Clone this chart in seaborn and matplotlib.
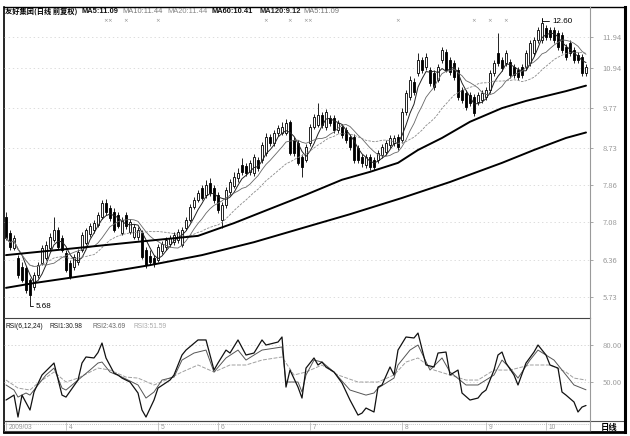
import numpy as np
import pandas as pd
import seaborn as sns
import matplotlib
matplotlib.use("Agg")
import matplotlib.pyplot as plt
from matplotlib.ticker import FixedLocator, NullLocator, FixedFormatter
import matplotlib.transforms as mtrans

# daily bars
opens = [7.18, 6.87, 6.58, 6.40, 6.24, 6.22, 6.02, 5.90, 6.10, 6.31,
         6.40, 6.58, 6.73, 6.92, 6.77, 6.49, 6.31, 6.24, 6.33, 6.54,
         6.67, 6.85, 6.92, 7.02, 7.18, 7.48, 7.37, 7.29, 7.22, 6.87,
         7.22, 6.88, 6.79, 6.79, 6.87, 6.54, 6.44, 6.40, 6.36, 6.53,
         6.60, 6.66, 6.69, 6.73, 6.64, 6.96, 7.12, 7.39, 7.54, 7.80,
         7.65, 7.91, 7.80, 7.65, 7.12, 7.43, 7.71, 7.84, 8.02, 8.32,
         8.30, 8.16, 8.13, 8.44, 8.44, 8.61, 9.01, 8.85, 9.11, 9.11,
         9.11, 9.40, 8.93, 8.85, 8.51, 8.44, 8.85, 9.27, 9.32, 9.58,
         9.27, 9.50, 9.50, 9.19, 9.27, 9.19, 9.01, 9.01, 8.73, 8.51,
         8.32, 8.51, 8.44, 8.44, 8.56, 8.63, 8.80, 8.85, 9.01, 8.93,
         9.66, 10.08, 10.52, 10.79, 11.19, 10.97, 10.88, 10.79, 10.58, 11.19,
         11.45, 11.19, 11.09, 10.88, 10.28, 10.19, 10.14, 10.08, 9.94, 9.99,
         10.08, 10.28, 10.79, 11.42, 11.19, 11.09, 11.12, 10.97, 10.88, 10.97,
         10.97, 11.09, 11.42, 11.84, 11.84, 12.25, 12.18, 12.18, 12.08, 12.01,
         11.61, 11.74, 11.51, 11.35, 11.29, 10.79]
highs = [7.29, 6.92, 6.83, 6.45, 6.33, 6.26, 6.05, 6.15, 6.33, 6.64,
         6.71, 6.87, 7.18, 6.98, 6.83, 6.54, 6.36, 6.47, 6.56, 6.88,
         6.96, 7.06, 7.12, 7.29, 7.54, 7.56, 7.43, 7.37, 7.29, 7.18,
         7.29, 7.14, 7.04, 6.98, 6.92, 6.60, 6.54, 6.45, 6.66, 6.71,
         6.79, 6.83, 6.88, 6.94, 6.98, 7.18, 7.45, 7.60, 7.76, 7.87,
         7.98, 8.02, 7.87, 7.71, 7.50, 7.82, 8.00, 8.16, 8.25, 8.49,
         8.37, 8.44, 8.59, 8.51, 8.88, 9.11, 9.08, 9.19, 9.32, 9.40,
         9.47, 9.45, 9.01, 8.93, 8.59, 8.83, 9.35, 9.61, 9.91, 9.66,
         9.74, 9.58, 9.58, 9.45, 9.35, 9.27, 9.08, 9.08, 8.80, 8.59,
         8.59, 8.59, 8.51, 8.68, 8.83, 8.93, 9.06, 9.06, 9.08, 9.77,
         10.28, 10.70, 10.64, 11.42, 11.29, 11.42, 10.97, 10.88, 11.06, 11.61,
         11.55, 11.29, 11.19, 10.97, 10.37, 10.28, 10.22, 10.17, 10.22, 10.28,
         10.37, 10.88, 11.19, 12.08, 11.29, 11.51, 11.22, 11.06, 10.97, 11.06,
         11.51, 11.84, 11.94, 12.28, 12.60, 12.35, 12.28, 12.28, 12.18, 12.11,
         11.71, 11.84, 11.61, 11.45, 11.38, 11.06]
lows = [6.73, 6.54, 6.54, 6.05, 5.98, 5.80, 5.68, 5.85, 6.05, 6.27,
        6.36, 6.54, 6.69, 6.56, 6.51, 6.15, 6.03, 6.19, 6.27, 6.51,
        6.64, 6.79, 6.87, 6.98, 7.14, 7.22, 7.10, 6.88, 6.96, 6.83,
        6.94, 6.85, 6.75, 6.73, 6.38, 6.22, 6.27, 6.24, 6.33, 6.47,
        6.54, 6.60, 6.64, 6.67, 6.60, 6.92, 7.08, 7.35, 7.50, 7.54,
        7.58, 7.63, 7.48, 7.27, 6.96, 7.37, 7.65, 7.80, 7.93, 8.09,
        8.07, 8.09, 8.07, 8.18, 8.37, 8.54, 8.78, 8.78, 9.03, 9.06,
        9.06, 8.56, 8.54, 8.32, 8.04, 8.39, 8.78, 9.21, 9.27, 9.24,
        9.19, 9.29, 9.11, 9.11, 8.98, 8.85, 8.68, 8.37, 8.37, 8.27,
        8.25, 8.20, 8.20, 8.37, 8.49, 8.56, 8.73, 8.78, 8.68, 8.85,
        9.58, 9.99, 10.14, 10.70, 10.79, 10.88, 10.40, 10.28, 10.52, 11.09,
        10.82, 10.73, 10.58, 9.99, 9.91, 9.72, 9.83, 9.56, 9.85, 9.91,
        9.99, 10.19, 10.70, 11.00, 10.85, 11.00, 10.64, 10.64, 10.58, 10.64,
        10.88, 11.00, 11.32, 11.74, 11.74, 11.84, 11.84, 11.74, 11.51, 11.42,
        11.19, 11.32, 11.09, 11.09, 10.70, 10.70]
closes = [6.77, 6.60, 6.77, 6.10, 6.02, 5.85, 5.77, 6.10, 6.27, 6.58,
          6.64, 6.79, 6.92, 6.60, 6.54, 6.19, 6.07, 6.42, 6.51, 6.83,
          6.92, 7.00, 7.06, 7.22, 7.48, 7.29, 7.16, 6.92, 7.00, 7.12,
          7.00, 7.08, 6.98, 6.92, 6.42, 6.27, 6.33, 6.31, 6.60, 6.66,
          6.73, 6.77, 6.83, 6.88, 6.92, 7.12, 7.39, 7.54, 7.69, 7.58,
          7.87, 7.69, 7.54, 7.33, 7.43, 7.76, 7.93, 8.04, 8.13, 8.16,
          8.13, 8.37, 8.51, 8.25, 8.80, 9.01, 8.85, 9.11, 9.24, 9.27,
          9.37, 8.61, 8.61, 8.37, 8.27, 8.75, 9.27, 9.53, 9.58, 9.32,
          9.66, 9.37, 9.19, 9.37, 9.06, 8.93, 8.75, 8.44, 8.44, 8.37,
          8.51, 8.27, 8.27, 8.61, 8.75, 8.85, 8.98, 8.98, 8.75, 9.66,
          10.19, 10.58, 10.22, 11.19, 10.88, 11.29, 10.49, 10.37, 10.97, 11.51,
          10.88, 10.82, 10.67, 10.08, 9.99, 9.80, 9.91, 9.64, 10.14, 10.19,
          10.28, 10.79, 11.09, 11.09, 10.94, 11.42, 10.73, 10.73, 10.67, 10.73,
          11.42, 11.74, 11.84, 12.18, 12.42, 11.94, 11.94, 11.84, 11.61, 11.51,
          11.29, 11.42, 11.19, 11.19, 10.79, 10.97]

# long averages (history starts before the window)
ma60_day = [0, 15, 32, 40, 48, 57, 66, 75, 84, 91, 98, 103, 109, 116, 124, 130, 135, 140, 145]
ma60_val = [6.45, 6.56, 6.69, 6.75, 6.81, 7.06, 7.35, 7.65, 7.98, 8.16, 8.37, 8.68, 8.98,
            9.40, 9.77, 9.97, 10.11, 10.25, 10.41]
ma120_day = [0, 7, 24, 36, 49, 62, 74, 86, 99, 111, 124, 132, 140, 145]
ma120_val = [5.88, 5.96, 6.13, 6.27, 6.45, 6.69, 6.96, 7.24, 7.58, 7.93, 8.37, 8.68, 8.98, 9.12]

rsi6_day = [0, 2, 3, 4, 6, 7, 9, 12, 14, 15, 18, 19, 20, 22, 23, 24, 25, 27, 28, 29,
            31, 33, 34, 35, 37, 38, 41, 42, 44, 45, 48, 49, 50, 52, 53, 55, 56, 58, 60, 62,
            64, 65, 68, 69, 70, 71, 73, 74, 75, 77, 78, 79, 80, 82, 84, 86, 88, 89, 90, 92,
            93, 94, 96, 97, 98, 100, 102, 103, 105, 107, 108, 110, 111, 113, 114, 116, 118, 119, 120, 122,
            123, 124, 125, 127, 128, 130, 132, 133, 135, 136, 138, 139, 140, 142, 143, 144, 145]
rsi6_val = [35.4, 39.4, 21.6, 39.4, 27.3, 41.9, 55.7, 65.4, 39.4, 37.8, 51.6, 65.4, 70.3, 69.5, 73.9, 81.6, 69.5, 57.3, 55.7, 53.2,
            50.0, 41.1, 27.3, 21.6, 35.4, 45.1, 51.6, 55.7, 71.9, 75.9, 84.1, 84.1, 84.1, 59.7, 65.4, 75.9, 73.5, 84.1, 71.9, 73.5,
            84.1, 80.0, 82.4, 86.5, 45.9, 59.7, 45.9, 37.0, 61.3, 69.5, 63.8, 66.2, 62.2, 58.1, 49.2, 35.4, 23.2, 24.8, 28.9, 25.7,
            45.9, 47.6, 62.2, 55.7, 75.9, 86.5, 85.7, 89.7, 63.8, 62.2, 73.5, 74.3, 55.7, 59.7, 41.1, 35.4, 37.0, 41.1, 43.5, 59.7,
            71.9, 74.3, 65.4, 55.7, 47.6, 65.4, 74.3, 80.0, 71.9, 63.8, 61.3, 41.9, 39.4, 33.8, 25.7, 29.7, 30.98]
rsi12_day = [0, 2, 3, 5, 6, 8, 10, 12, 14, 15, 18, 21, 23, 24, 26, 29, 33, 35, 37, 39,
             42, 44, 47, 50, 52, 55, 58, 60, 64, 69, 70, 73, 74, 75, 77, 79, 82, 86, 90, 92,
             93, 97, 98, 101, 103, 106, 109, 111, 115, 118, 122, 124, 126, 128, 131, 133, 137, 140, 142, 145]
rsi12_val = [47.6, 43.5, 37.8, 41.1, 39.4, 47.6, 55.7, 61.3, 45.1, 43.5, 51.6, 59.7, 65.4, 66.2, 58.1, 54.0, 47.6, 37.0, 41.9, 51.6,
             54.0, 67.8, 73.5, 75.9, 58.1, 69.5, 75.9, 67.8, 75.9, 78.4, 50.0, 50.0, 41.9, 55.7, 67.8, 66.2, 58.1, 43.5, 39.4, 41.1,
             45.1, 53.2, 63.8, 75.9, 80.0, 59.7, 69.5, 58.1, 47.6, 47.6, 55.7, 67.8, 61.3, 53.2, 67.8, 75.9, 67.8, 55.7, 47.6, 43.69]
rsi24_day = [0, 3, 6, 8, 12, 15, 18, 23, 26, 30, 33, 37, 40, 44, 48, 52, 56, 60, 64, 69,
             72, 75, 79, 83, 88, 93, 97, 100, 103, 107, 111, 115, 118, 122, 126, 131, 136, 140, 142, 145]
rsi24_val = [51.6, 45.1, 43.5, 49.2, 58.1, 50.0, 53.2, 61.3, 59.7, 54.0, 53.2, 47.6, 51.6, 58.1, 63.8, 58.1, 63.8, 63.8, 67.8, 70.3,
             55.7, 58.1, 63.8, 55.7, 50.0, 50.0, 55.7, 66.2, 69.5, 59.7, 55.7, 51.6, 51.6, 59.7, 59.7, 63.8, 63.8, 58.1, 53.2, 51.59]

price_ticks = [5.73, 6.36, 7.08, 7.86, 8.73, 9.77, 10.94, 11.94]
rsi_ticks = [50, 80]
date_days = [0, 15, 38, 53, 76, 99, 120, 135]
date_labels = ["2009/03", "4", "5", "6", "7", "8", "9", "10"]
marker_days = [25, 26, 30, 38, 65, 71, 75, 76, 98, 117, 121, 125]

title_name = "友好集团(日线 前复权)"
ma_labels = ["MA5:11.09", "MA10:11.44", "MA20:11.44", "MA60:10.41", "MA120:9.12", "MA5:11.09"]
rsi_labels = ["RSI(6,12,24)", "RSI1:30.98", "RSI2:43.69", "RSI3:51.59"]

sns.set_theme(style="white")
plt.rcParams['font.family'] = ['Noto Sans CJK SC', 'DejaVu Sans']
latin = ["Liberation Sans", "DejaVu Sans"]

df = pd.DataFrame({"day": np.arange(len(closes)), "open": opens, "high": highs,
                   "low": lows, "close": closes})
df["ma5"] = df["close"].rolling(5, min_periods=1).mean()
df["ma10"] = df["close"].rolling(10, min_periods=1).mean()
df["ma20"] = df["close"].rolling(20, min_periods=1).mean()

W, H = 630, 436
fig = plt.figure(figsize=(W / 100, H / 100), dpi=100)
fig.patch.set_facecolor("white")

def box(x0, y0, x1, y1):
    return [x0 / W, 1 - y1 / H, (x1 - x0) / W, (y1 - y0) / H]

frame = fig.add_axes(box(4, 7, 625, 432), zorder=0)
ax = fig.add_axes(box(4, 7, 590, 318), zorder=2)
axr = fig.add_axes(box(4, 318, 590, 421), zorder=2)
axd = fig.add_axes(box(4, 421, 590, 431), zorder=2)

frame.set_xticks([]); frame.set_yticks([])
for s in frame.spines.values():
    s.set_color("black")
frame.spines["left"].set_linewidth(1.2)
frame.spines["top"].set_linewidth(1.0)
frame.spines["right"].set_linewidth(2.2)
frame.spines["bottom"].set_linewidth(2.0)
frame.plot([0, 1], [11 / 425, 11 / 425], transform=frame.transAxes, color="#555555", lw=0.8)

xlim = (-0.5, len(closes) + 0.0)
for a in (ax, axr, axd):
    a.set_facecolor("none")
    a.set_xlim(*xlim)
    a.set_xticks([])
    for k in ("left", "top"):
        a.spines[k].set_visible(False)
    a.spines["right"].set_color("#9a9a9a")
    a.spines["right"].set_linewidth(0.8)
    a.spines["bottom"].set_color("#444444")
    a.spines["bottom"].set_linewidth(0.8)

# ---- price panel
ax.set_yscale("log")
ax.set_ylim(5.40, 13.00)
up = df["close"] >= df["open"]
ax.vlines(df["day"], df["low"], df["high"], color="black", lw=0.6, zorder=3)
body_lo = df[["open", "close"]].min(axis=1)
body_h = (df["close"] - df["open"]).abs().clip(lower=0.02)
ax.bar(df["day"][up], body_h[up], bottom=body_lo[up], width=0.62,
       facecolor="white", edgecolor="black", linewidth=0.6, zorder=4)
ax.bar(df["day"][~up], body_h[~up], bottom=body_lo[~up], width=0.62,
       facecolor="black", edgecolor="black", linewidth=0.6, zorder=4)

sns.lineplot(data=df, x="day", y="ma5", ax=ax, color="#222222", lw=0.7, legend=False, zorder=5)
sns.lineplot(data=df, x="day", y="ma10", ax=ax, color="#666666", lw=0.6, legend=False, zorder=5)
sns.lineplot(data=df, x="day", y="ma20", ax=ax, color="#8a8a8a", lw=0.6, ls=(0, (3, 1.5)), legend=False, zorder=5)
sns.lineplot(x=ma60_day, y=ma60_val, ax=ax, color="black", lw=1.4, legend=False, zorder=5)
sns.lineplot(x=ma120_day, y=ma120_val, ax=ax, color="black", lw=1.4, legend=False, zorder=5)

ax.yaxis.tick_right()
ax.yaxis.set_major_locator(FixedLocator(price_ticks))
ax.yaxis.set_major_formatter(FixedFormatter(["%.2f" % v for v in price_ticks]))
ax.yaxis.set_minor_locator(NullLocator())
ax.tick_params(axis="y", which="major", length=2, width=0.6, color="#9a9a9a",
               labelsize=5.5, labelcolor="#9a9a9a", pad=7, right=True)
for v in price_ticks:
    ax.axhline(v, color="#cfcfcf", lw=0.5, ls=(0, (2, 4)), zorder=1)
ax.set_xlabel(""); ax.set_ylabel("")

# header texts
tx = [5, 81, 122, 167, 212, 259, 303]
ty = (318 - 11) / 311
ax.text((tx[0] - 4) / 586, ty, title_name, transform=ax.transAxes, fontsize=5.2,
        fontweight="bold", color="black", va="center", ha="left")
ma_colors = ["#111111", "#777777", "#888888", "#111111", "#222222", "#777777"]
ma_weights = ["bold", "normal", "normal", "bold", "bold", "normal"]
for px, lab, c, fw in zip(tx[1:], ma_labels, ma_colors, ma_weights):
    ax.text((px - 4) / 586, ty, lab, transform=ax.transAxes, fontsize=5.4,
            color=c, fontweight=fw, va="center", ha="left", family=latin)
mk_trans = mtrans.blended_transform_factory(ax.transData, ax.transAxes)
for d in marker_days:
    ax.text(d, (318 - 21) / 311, "×", transform=mk_trans, fontsize=4, color="#888888",
            ha="center", va="center", family="DejaVu Sans")

ax.annotate("12.60", xy=(134, 12.60), xytext=(136.5, 12.48), fontsize=5.8, color="black",
            va="center", ha="left", family=latin,
            arrowprops=dict(arrowstyle="-", lw=0.6, color="black", shrinkA=0, shrinkB=0,
                            connectionstyle="angle,angleA=0,angleB=90,rad=0"))
ax.annotate("5.68", xy=(6, 5.68), xytext=(7.5, 5.58), fontsize=5.8, color="black",
            va="center", ha="left", family=latin,
            arrowprops=dict(arrowstyle="-", lw=0.6, color="black", shrinkA=0, shrinkB=0,
                            connectionstyle="angle,angleA=0,angleB=90,rad=0"))

# ---- RSI panel
axr.set_ylim(18.4, 101.9)
sns.lineplot(x=rsi24_day, y=rsi24_val, ax=axr, color="#a0a0a0", lw=0.7, ls=(0, (4, 1.5)), legend=False)
sns.lineplot(x=rsi12_day, y=rsi12_val, ax=axr, color="#555555", lw=0.7, legend=False)
sns.lineplot(x=rsi6_day, y=rsi6_val, ax=axr, color="#111111", lw=0.9, legend=False)
for v in rsi_ticks:
    axr.axhline(v, color="#c8c8c8", lw=0.5, ls=(0, (2, 3)), zorder=0)
axr.yaxis.tick_right()
axr.yaxis.set_major_locator(FixedLocator(rsi_ticks))
axr.yaxis.set_major_formatter(FixedFormatter(["%.2f" % v for v in rsi_ticks]))
axr.tick_params(axis="y", length=2, width=0.6, color="#9a9a9a", labelsize=5.5,
                labelcolor="#a0a0a0", pad=7, right=True)
axr.set_xlabel(""); axr.set_ylabel("")
rx = [5, 50, 92, 133]
rc = ["#111111", "#222222", "#666666", "#aaaaaa"]
for px, lab, c in zip(rx, rsi_labels, rc):
    axr.text((px - 4) / 586, (421 - 326) / 103, lab, transform=axr.transAxes, fontsize=4.8,
             color=c, va="center", ha="left", family=latin)

# ---- date strip
axd.set_ylim(0, 1)
axd.set_yticks([])
axd.axhline(0.75, color="#b0b0b0", lw=0.6, ls=(0, (1, 1.5)))
for d, lab in zip(date_days, date_labels):
    axd.vlines(d, 0.1, 0.9, color="#b0b0b0", lw=0.5)
    axd.text(d + 0.6, 0.4, lab, fontsize=4.8, color="#999999", va="center", ha="left",
             family=latin)
fig.text(609 / W, 1 - 427 / H, "日线", fontsize=6, fontweight="bold", color="black",
         ha="center", va="center")

fig.savefig("out.png", dpi=100, facecolor="white")
